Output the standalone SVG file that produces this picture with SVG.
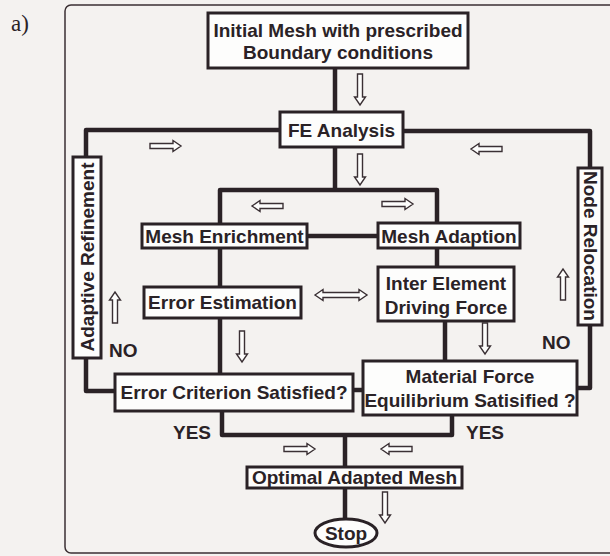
<svg xmlns="http://www.w3.org/2000/svg" width="610" height="556" viewBox="0 0 610 556">
<defs>
<style>
.bg{fill:#f4f2f0}
.frame{fill:none;stroke:#3a2f33;stroke-width:1.5}
.box{fill:#fdfdfc;stroke:#2a2226;stroke-width:3}
.con{fill:none;stroke:#2a2226;stroke-width:4.5;stroke-linejoin:round;stroke-linecap:butt}
.t{font-family:"Liberation Sans",Arial,sans-serif;font-weight:bold;font-size:19px;fill:#2a2226;text-anchor:middle}
.lbl{font-family:"Liberation Sans",Arial,sans-serif;font-weight:bold;font-size:19px;fill:#2a2226}
.ha{fill:#fdfdfc;stroke:#3a3034;stroke-width:1.4;stroke-linejoin:miter}
</style>
<path id="arr" d="M0,-2.5 H23 V-5.5 L31,0 L23,5.5 V2.5 H0 Z"/>
</defs>
<rect class="bg" x="0" y="0" width="610" height="556"/>
<text x="11" y="31" style="font-family:'Liberation Serif','Times New Roman',serif;font-size:23px;fill:#2a2226">a)</text>
<rect class="frame" x="65" y="5" width="600" height="548" rx="6"/>

<g id="connectors">
<path class="con" d="M335,68 V112"/>
<path class="con" d="M280,130 H86 V157"/>
<path class="con" d="M403,131 H590 V168"/>
<path class="con" d="M335,147 V190"/>
<path class="con" d="M220,224 V190 H437 V223"/>
<path class="con" d="M307,236 H378"/>
<path class="con" d="M220,248 V287"/>
<path class="con" d="M220,318 V374"/>
<path class="con" d="M437,248 V267"/>
<path class="con" d="M445,321 V361"/>
<path class="con" d="M86,358 V391 H115"/>
<path class="con" d="M590,325 V388 H577"/>
<path class="con" d="M353,390 H363"/>
<path class="con" d="M222,411 V435 H452 V415"/>
<path class="con" d="M345,435 V467"/>
<path class="con" d="M345,488 V519"/>
</g>

<g id="hollow-arrows">
<use href="#arr" class="ha" transform="translate(360,74) rotate(90)"/>
<use href="#arr" class="ha" transform="translate(150,146)"/>
<use href="#arr" class="ha" transform="translate(502,149) rotate(180)"/>
<use href="#arr" class="ha" transform="translate(360,154) rotate(90)"/>
<use href="#arr" class="ha" transform="translate(283,206) rotate(180)"/>
<use href="#arr" class="ha" transform="translate(382,204)"/>
<use href="#arr" class="ha" transform="translate(115,323) rotate(-90)"/>
<path class="ha" d="M315,295 L323,289.5 V292.5 H359 V289.5 L367,295 L359,300.5 V297.5 H323 V300.5 Z"/>
<use href="#arr" class="ha" transform="translate(563,300) rotate(-90)"/>
<use href="#arr" class="ha" transform="translate(242,331) rotate(90)"/>
<use href="#arr" class="ha" transform="translate(485,323) rotate(90)"/>
<use href="#arr" class="ha" transform="translate(284,449)"/>
<use href="#arr" class="ha" transform="translate(412,449) rotate(180)"/>
<use href="#arr" class="ha" transform="translate(385,492) rotate(90)"/>
</g>

<g id="initial">
<rect class="box" x="208" y="13" width="260" height="55"/>
<text class="t" x="338" y="37">Initial Mesh with prescribed</text>
<text class="t" x="338" y="59">Boundary conditions</text>
</g>
<g id="fe">
<rect class="box" x="280" y="112" width="123" height="35"/>
<text class="t" x="341.5" y="137">FE Analysis</text>
</g>
<g id="adaptive">
<rect class="box" x="73" y="157" width="28" height="201"/>
<text class="t" transform="translate(94,257) rotate(-90)">Adaptive Refinement</text>
</g>
<g id="node-relocation">
<rect class="box" x="578" y="168" width="24" height="157"/>
<text class="t" transform="translate(583.5,246) rotate(90)">Node Relocation</text>
</g>
<g id="mesh-enrichment">
<rect class="box" x="142" y="224" width="165" height="24"/>
<text class="t" x="224.5" y="243">Mesh Enrichment</text>
</g>
<g id="mesh-adaption">
<rect class="box" x="378" y="223" width="142" height="25"/>
<text class="t" x="449" y="243">Mesh Adaption</text>
</g>
<g id="error-estimation">
<rect class="box" x="144" y="287" width="157" height="31"/>
<text class="t" x="222.5" y="309">Error Estimation</text>
</g>
<g id="inter-element">
<rect class="box" x="378" y="267" width="136" height="54"/>
<text class="t" x="446" y="290">Inter Element</text>
<text class="t" x="446" y="314">Driving Force</text>
</g>
<g id="error-criterion">
<rect class="box" x="115" y="374" width="238" height="37"/>
<text class="t" x="234" y="399">Error Criterion Satisfied?</text>
</g>
<g id="material-force">
<rect class="box" x="363" y="361" width="214" height="54"/>
<text class="t" x="470" y="383">Material Force</text>
<text class="t" x="470" y="407">Equilibrium Satisified ?</text>
</g>
<g id="optimal">
<rect class="box" x="247" y="467" width="215" height="21"/>
<text class="t" x="354.5" y="484">Optimal Adapted Mesh</text>
</g>
<g id="stop">
<ellipse class="box" cx="346" cy="533" rx="31" ry="14"/>
<text class="t" x="346" y="540">Stop</text>
</g>

<g id="labels">
<text class="lbl" x="109" y="357">NO</text>
<text class="lbl" x="542" y="349">NO</text>
<text class="lbl" x="173" y="439">YES</text>
<text class="lbl" x="466" y="439">YES</text>
</g>
</svg>
